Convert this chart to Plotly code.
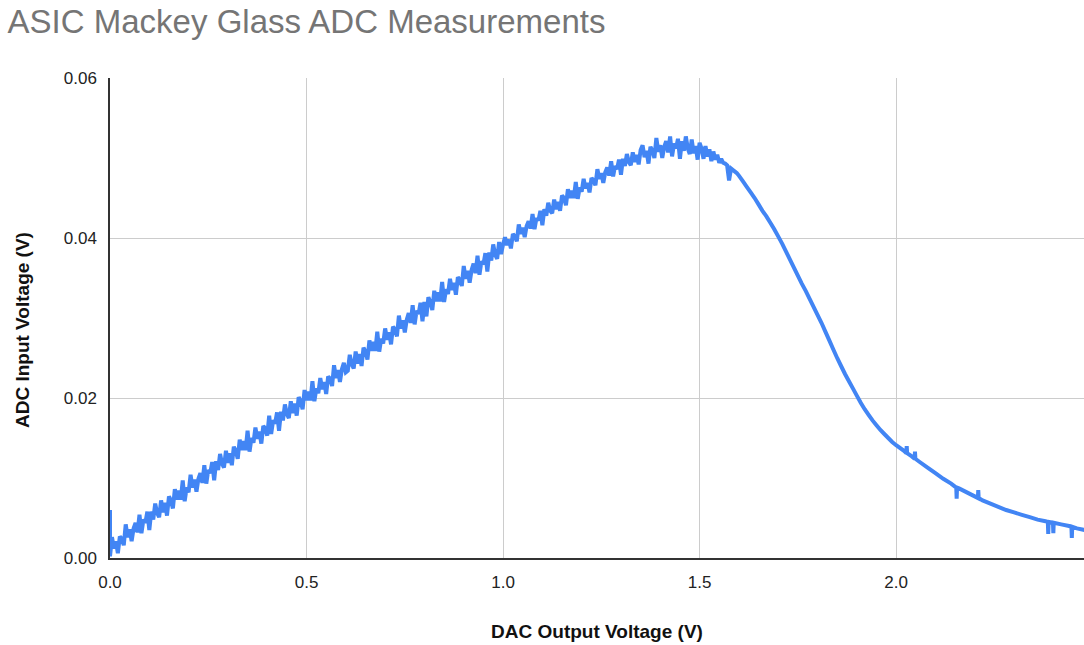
import plotly.graph_objects as go

# DAC output voltage (V) and ADC input voltage (V).
# Rising, noisy part: samples every 0.005 V from 0 to 1.6 V.
x_rise = [0.000, 0.000,
    0.005, 0.010, 0.015, 0.020, 0.025, 0.030, 0.035, 0.040, 0.045, 0.050,
    0.055, 0.060, 0.065, 0.070, 0.075, 0.080, 0.085, 0.090, 0.095, 0.100,
    0.105, 0.110, 0.115, 0.120, 0.125, 0.130, 0.135, 0.140, 0.145, 0.150,
    0.155, 0.160, 0.165, 0.170, 0.175, 0.180, 0.185, 0.190, 0.195, 0.200,
    0.205, 0.210, 0.215, 0.220, 0.225, 0.230, 0.235, 0.240, 0.245, 0.250,
    0.255, 0.260, 0.265, 0.270, 0.275, 0.280, 0.285, 0.290, 0.295, 0.300,
    0.305, 0.310, 0.315, 0.320, 0.325, 0.330, 0.335, 0.340, 0.345, 0.350,
    0.355, 0.360, 0.365, 0.370, 0.375, 0.380, 0.385, 0.390, 0.395, 0.400,
    0.405, 0.410, 0.415, 0.420, 0.425, 0.430, 0.435, 0.440, 0.445, 0.450,
    0.455, 0.460, 0.465, 0.470, 0.475, 0.480, 0.485, 0.490, 0.495, 0.500,
    0.505, 0.510, 0.515, 0.520, 0.525, 0.530, 0.535, 0.540, 0.545, 0.550,
    0.555, 0.560, 0.565, 0.570, 0.575, 0.580, 0.585, 0.590, 0.595, 0.600,
    0.605, 0.610, 0.615, 0.620, 0.625, 0.630, 0.635, 0.640, 0.645, 0.650,
    0.655, 0.660, 0.665, 0.670, 0.675, 0.680, 0.685, 0.690, 0.695, 0.700,
    0.705, 0.710, 0.715, 0.720, 0.725, 0.730, 0.735, 0.740, 0.745, 0.750,
    0.755, 0.760, 0.765, 0.770, 0.775, 0.780, 0.785, 0.790, 0.795, 0.800,
    0.805, 0.810, 0.815, 0.820, 0.825, 0.830, 0.835, 0.840, 0.845, 0.850,
    0.855, 0.860, 0.865, 0.870, 0.875, 0.880, 0.885, 0.890, 0.895, 0.900,
    0.905, 0.910, 0.915, 0.920, 0.925, 0.930, 0.935, 0.940, 0.945, 0.950,
    0.955, 0.960, 0.965, 0.970, 0.975, 0.980, 0.985, 0.990, 0.995, 1.000,
    1.005, 1.010, 1.015, 1.020, 1.025, 1.030, 1.035, 1.040, 1.045, 1.050,
    1.055, 1.060, 1.065, 1.070, 1.075, 1.080, 1.085, 1.090, 1.095, 1.100,
    1.105, 1.110, 1.115, 1.120, 1.125, 1.130, 1.135, 1.140, 1.145, 1.150,
    1.155, 1.160, 1.165, 1.170, 1.175, 1.180, 1.185, 1.190, 1.195, 1.200,
    1.205, 1.210, 1.215, 1.220, 1.225, 1.230, 1.235, 1.240, 1.245, 1.250,
    1.255, 1.260, 1.265, 1.270, 1.275, 1.280, 1.285, 1.290, 1.295, 1.300,
    1.305, 1.310, 1.315, 1.320, 1.325, 1.330, 1.335, 1.340, 1.345, 1.350,
    1.355, 1.360, 1.365, 1.370, 1.375, 1.380, 1.385, 1.390, 1.395, 1.400,
    1.405, 1.410, 1.415, 1.420, 1.425, 1.430, 1.435, 1.440, 1.445, 1.450,
    1.455, 1.460, 1.465, 1.470, 1.475, 1.480, 1.485, 1.490, 1.495, 1.500,
    1.505, 1.510, 1.515, 1.520, 1.525, 1.530, 1.535, 1.540, 1.545, 1.550,
    1.555, 1.560, 1.565, 1.570, 1.575, 1.580, 1.585, 1.590, 1.595, 1.600]

y_rise = [0.0060, 0.0002,
    0.0026, 0.0012, 0.0021, 0.0006, 0.0027, 0.0024, 0.0016, 0.0042, 0.0026, 0.0036,
    0.0021, 0.0037, 0.0044, 0.0032, 0.0054, 0.0031, 0.0048, 0.0044, 0.0058, 0.0035,
    0.0058, 0.0048, 0.0068, 0.0056, 0.0051, 0.0072, 0.0057, 0.0069, 0.0053, 0.0077,
    0.0072, 0.0062, 0.0086, 0.0073, 0.0084, 0.0073, 0.0097, 0.0071, 0.0088, 0.0082,
    0.0104, 0.0088, 0.0098, 0.0083, 0.0099, 0.0106, 0.0094, 0.0116, 0.0093, 0.0110,
    0.0106, 0.0120, 0.0097, 0.0121, 0.0110, 0.0130, 0.0118, 0.0113, 0.0134, 0.0119,
    0.0131, 0.0116, 0.0139, 0.0134, 0.0124, 0.0148, 0.0135, 0.0146, 0.0135, 0.0159,
    0.0133, 0.0150, 0.0144, 0.0163, 0.0149, 0.0158, 0.0143, 0.0165, 0.0162, 0.0153,
    0.0178, 0.0155, 0.0172, 0.0168, 0.0182, 0.0159, 0.0183, 0.0172, 0.0192, 0.0180,
    0.0175, 0.0196, 0.0181, 0.0193, 0.0178, 0.0201, 0.0196, 0.0186, 0.0210, 0.0197,
    0.0208, 0.0197, 0.0221, 0.0196, 0.0212, 0.0206, 0.0225, 0.0211, 0.0220, 0.0205,
    0.0227, 0.0224, 0.0215, 0.0241, 0.0225, 0.0235, 0.0220, 0.0236, 0.0244, 0.0232,
    0.0234, 0.0254, 0.0242, 0.0237, 0.0258, 0.0243, 0.0255, 0.0240, 0.0263, 0.0258,
    0.0248, 0.0272, 0.0259, 0.0270, 0.0259, 0.0283, 0.0258, 0.0274, 0.0268, 0.0287,
    0.0273, 0.0282, 0.0267, 0.0289, 0.0286, 0.0277, 0.0303, 0.0287, 0.0297, 0.0282,
    0.0298, 0.0306, 0.0294, 0.0316, 0.0292, 0.0309, 0.0305, 0.0319, 0.0296, 0.0320,
    0.0302, 0.0326, 0.0320, 0.0310, 0.0334, 0.0321, 0.0332, 0.0321, 0.0345, 0.0320,
    0.0336, 0.0330, 0.0349, 0.0335, 0.0344, 0.0329, 0.0351, 0.0348, 0.0340, 0.0365,
    0.0349, 0.0359, 0.0344, 0.0360, 0.0368, 0.0356, 0.0378, 0.0354, 0.0371, 0.0367,
    0.0381, 0.0358, 0.0382, 0.0372, 0.0392, 0.0379, 0.0374, 0.0395, 0.0380, 0.0392,
    0.0401, 0.0391, 0.0398, 0.0387, 0.0405, 0.0402, 0.0396, 0.0417, 0.0405, 0.0413,
    0.0401, 0.0415, 0.0421, 0.0412, 0.0430, 0.0411, 0.0425, 0.0422, 0.0434, 0.0416,
    0.0436, 0.0428, 0.0444, 0.0434, 0.0431, 0.0448, 0.0436, 0.0445, 0.0434, 0.0453,
    0.0450, 0.0441, 0.0461, 0.0450, 0.0459, 0.0450, 0.0470, 0.0449, 0.0463, 0.0458,
    0.0474, 0.0462, 0.0469, 0.0457, 0.0475, 0.0472, 0.0466, 0.0486, 0.0474, 0.0481,
    0.0469, 0.0482, 0.0488, 0.0478, 0.0496, 0.0477, 0.0490, 0.0486, 0.0498, 0.0479,
    0.0499, 0.0490, 0.0505, 0.0495, 0.0491, 0.0507, 0.0495, 0.0504, 0.0492, 0.0510,
    0.0516, 0.0501, 0.0509, 0.0493, 0.0514, 0.0509, 0.0500, 0.0525, 0.0508, 0.0516,
    0.0500, 0.0514, 0.0521, 0.0507, 0.0527, 0.0502, 0.0518, 0.0512, 0.0524, 0.0499,
    0.0521, 0.0509, 0.0527, 0.0512, 0.0505, 0.0523, 0.0506, 0.0515, 0.0498, 0.0519,
    0.0512, 0.0499, 0.0515, 0.0502, 0.0511, 0.0496, 0.0508, 0.0498, 0.0504, 0.0494,
    0.0499, 0.0494, 0.0493, 0.0491, 0.0472, 0.0487, 0.0485, 0.0483, 0.0481, 0.0478]

# Falling, mostly smooth part, with a few isolated spikes.
x_fall = [1.61, 1.62, 1.63, 1.64, 1.65, 1.66, 1.67, 1.68, 1.69, 1.70,
          1.71, 1.72, 1.73, 1.74, 1.75, 1.76, 1.77, 1.78, 1.79, 1.80,
          1.81, 1.82, 1.83, 1.84, 1.85, 1.86, 1.87, 1.88, 1.89, 1.90,
          1.91, 1.92, 1.93, 1.94, 1.95, 1.96, 1.97, 1.98, 1.99, 2.00,
          2.02, 2.026, 2.027, 2.028, 2.04, 2.047, 2.048, 2.049, 2.06, 2.08,
          2.10, 2.12, 2.14, 2.153, 2.154, 2.155, 2.16, 2.18, 2.20, 2.208,
          2.209, 2.210, 2.22, 2.24, 2.26, 2.28, 2.30, 2.32, 2.34, 2.36,
          2.38, 2.386, 2.387, 2.388, 2.399, 2.400, 2.401, 2.42, 2.44, 2.446,
          2.447, 2.448, 2.46, 2.48]

y_fall = [0.0471, 0.0464, 0.0457, 0.0450, 0.0442, 0.0434, 0.0427, 0.0419, 0.0411, 0.0402,
          0.0393, 0.0383, 0.0373, 0.0363, 0.0353, 0.0343, 0.0334, 0.0324, 0.0314, 0.0304,
          0.0294, 0.0283, 0.0272, 0.0261, 0.0250, 0.0240, 0.0230, 0.0221, 0.0212, 0.0203,
          0.0194, 0.0186, 0.0179, 0.0172, 0.0166, 0.0160, 0.0155, 0.0150, 0.0145, 0.0141,
          0.0134, 0.0131, 0.0140, 0.0131, 0.0127, 0.0124, 0.0133, 0.0124, 0.0120, 0.0113,
          0.0106, 0.0099, 0.0093, 0.0088, 0.0074, 0.0088, 0.0087, 0.0082, 0.0077, 0.0075,
          0.0085, 0.0075, 0.0072, 0.0068, 0.0064, 0.0060, 0.0057, 0.0054, 0.0051, 0.0048,
          0.0046, 0.0045, 0.0030, 0.0045, 0.0044, 0.0031, 0.0044, 0.0042, 0.0040, 0.0039,
          0.0025, 0.0039, 0.0037, 0.0035]

x_ticks = [0.0, 0.5, 1.0, 1.5, 2.0]
y_ticks = [0.00, 0.02, 0.04, 0.06]

FONT = "Arial, 'Liberation Sans', sans-serif"

fig = go.Figure()
fig.add_trace(go.Scatter(
    x=x_rise + x_fall, y=y_rise + y_fall,
    mode="lines",
    line=dict(color="#4285F4", width=4, simplify=False),
    showlegend=False, hoverinfo="skip",
))

fig.update_layout(
    width=1084, height=645,
    margin=dict(l=110, r=0, t=78, b=87),
    paper_bgcolor="white", plot_bgcolor="white",
    title=dict(text="ASIC Mackey Glass ADC Measurements",
               font=dict(family=FONT, size=33, color="#757575"),
               x=0.007, xanchor="left", y=0.966, yanchor="middle"),
    font=dict(family=FONT),
    annotations=[dict(
        text="<b>ADC Input Voltage (V)</b>", textangle=-90,
        xref="paper", yref="paper", x=-0.0903, y=0.475,
        xanchor="center", yanchor="middle", showarrow=False,
        font=dict(family=FONT, size=19, color="#111111"),
    )],
)
fig.update_xaxes(
    range=[0, 2.478], tickvals=x_ticks, tickformat=".1f",
    tickfont=dict(size=17, color="#222222"),
    showgrid=True, gridcolor="#cccccc", gridwidth=1,
    showline=True, linecolor="#333333", linewidth=1.5,
    zeroline=False, ticks="", ticklabelstandoff=8,
    title=dict(text="<b>DAC Output Voltage (V)</b>",
               font=dict(family=FONT, size=19, color="#111111"), standoff=34),
)
fig.update_yaxes(
    range=[0, 0.06], tickvals=y_ticks, tickformat=".2f",
    tickfont=dict(size=17, color="#222222"),
    showgrid=True, gridcolor="#cccccc", gridwidth=1,
    showline=True, linecolor="#333333", linewidth=1.5,
    zeroline=False, ticks="", ticklabelstandoff=8,
)

fig.write_html("out.html")
